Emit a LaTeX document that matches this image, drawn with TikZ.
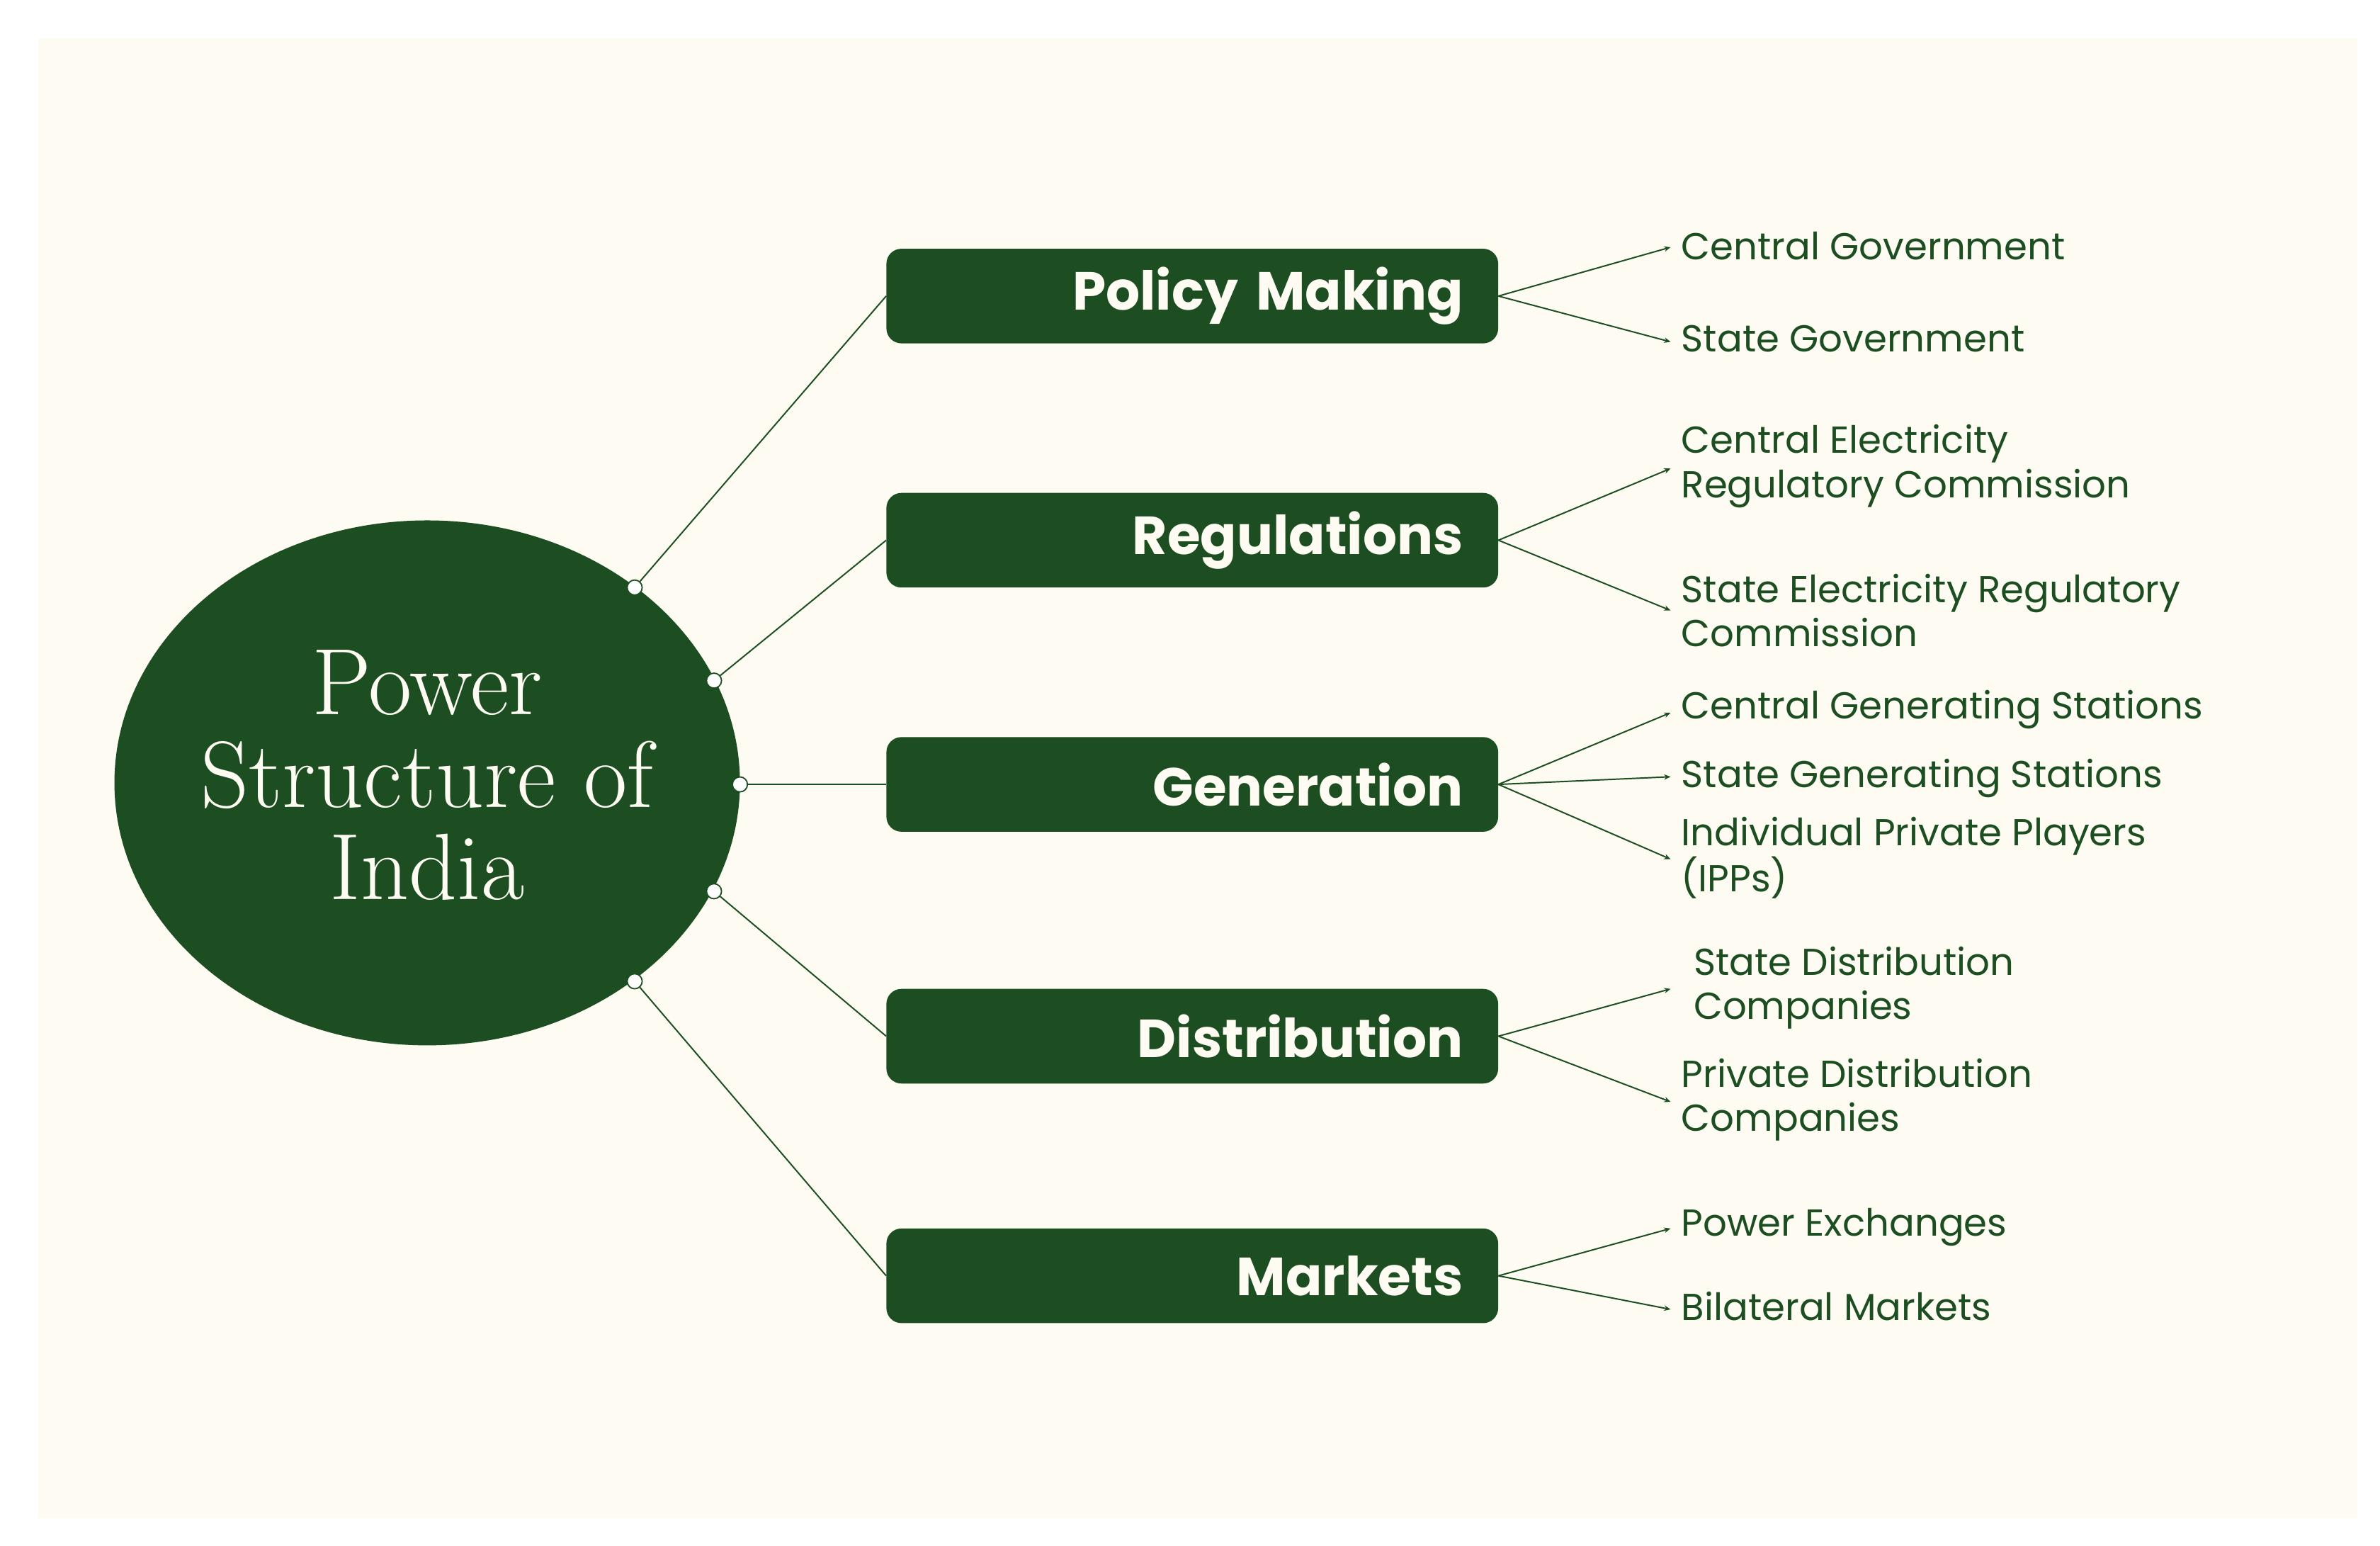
\documentclass[tikz,border=0pt]{standalone}
\usepackage{fontspec}
\usetikzlibrary{arrows.meta}
\setmainfont{Poppins}
\newfontfamily\serifcirc{Latin Modern Roman}
\begin{document}
\definecolor{cream}{HTML}{FDFBF2}
\definecolor{dgreen}{HTML}{1D4E22}
\begin{tikzpicture}[x=0.05cm,y=-0.05cm,
 box/.style={fill=dgreen,rounded corners=14pt,minimum width=401*0.05cm,minimum height=62*0.05cm,text=cream,font=\fontsize{50}{56}\selectfont\bfseries,align=right,text width=355*0.05cm,inner sep=0pt},
 leaf/.style={anchor=west,text=dgreen,font=\fontsize{35}{41}\selectfont,align=left,inner sep=0pt},
 con/.style={draw=dgreen,line width=1.3pt},
 arr/.style={con,-{Stealth[length=6pt,width=5pt]}},
 dot/.style={circle,draw=dgreen,fill=white,line width=1.2pt,minimum size=14pt,inner sep=0pt}]
\useasboundingbox (0,0) rectangle (1560,1013);
\fill[white] (0,0) rectangle (1560,1013);
\fill[cream] (25,25) rectangle (1545,995);
\fill[dgreen] (280,513) ellipse [x radius=205*0.05cm,y radius=172*0.05cm];
\node[text=cream,align=center,font=\serifcirc\fontsize{88}{86}\selectfont] (c) at (280,508) {Power\\Structure of\\India};
\node[box] (p) at (781.5,194) {Policy Making};
\node[box] (r) at (781.5,354) {Regulations};
\node[box] (g) at (781.5,514) {Generation};
\node[box] (d) at (781.5,679) {Distribution};
\node[box] (m) at (781.5,836) {Markets};
\node[dot] (d1) at (416,385) {};
\node[dot] (d2) at (468,446) {};
\node[dot] (d3) at (485,514) {};
\node[dot] (d4) at (468,584) {};
\node[dot] (d5) at (416,643) {};
\draw[con] (d1) -- (p.west);
\draw[con] (d2) -- (r.west);
\draw[con] (d3) -- (g.west);
\draw[con] (d4) -- (d.west);
\draw[con] (d5) -- (m.west);
\foreach \n/\y in {p1/162,p2/224,r1/307,r2/400,g1/467,g2/509,g3/563,s1/648,s2/722,m1/805,m2/858}
  \coordinate (\n) at (1095,\y);
\foreach \b/\n in {p/p1,p/p2,r/r1,r/r2,g/g1,g/g2,g/g3,d/s1,d/s2,m/m1,m/m2}
  \draw[arr] (\b.east) -- (\n);
\node[leaf] (l1) at (1102,161) {Central Government};
\node[leaf] (l2) at (1102,222) {State Government};
\node[leaf] (l3) at (1102,305.5) {Central Electricity\\Regulatory Commission};
\node[leaf] (l4) at (1102,400) {State Electricity Regulatory\\Commission};
\node[leaf] (l5) at (1102,465) {Central Generating Stations};
\node[leaf] (l6) at (1102,510) {State Generating Stations};
\node[leaf] (l7) at (1102,562) {Individual Private Players\\(IPPs)};
\node[leaf] (l8) at (1110,647.5) {State Distribution\\Companies};
\node[leaf] (l9) at (1102,720.5) {Private Distribution\\Companies};
\node[leaf] (l10) at (1102,804) {Power Exchanges};
\node[leaf] (l11) at (1102,856) {Bilateral Markets};
\end{tikzpicture}
\end{document}
